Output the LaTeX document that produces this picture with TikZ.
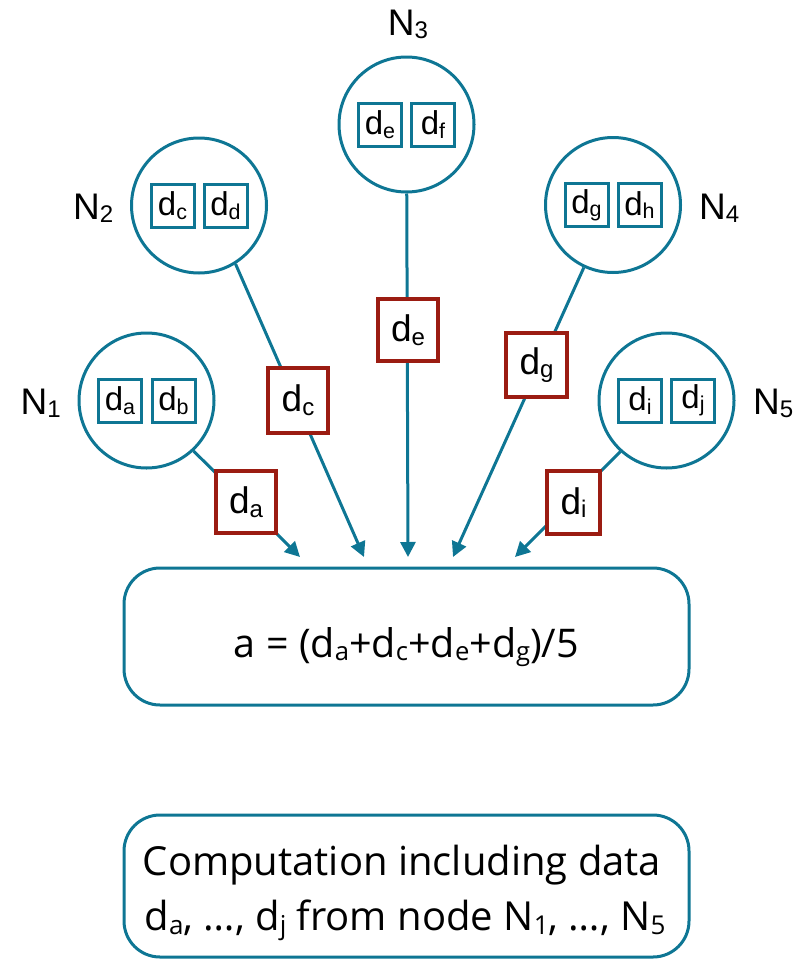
\documentclass[tikz,border=0pt]{standalone}
\usepackage{fontspec}
\usepackage{graphicx}
\setmainfont{Liberation Sans}
\newfontfamily\osans{Open Sans}
\usetikzlibrary{arrows.meta}
\definecolor{tealline}{RGB}{14,118,148}
\definecolor{redline}{RGB}{155,28,18}
\newcommand\lo[1]{\raisebox{-0.1em}{\scalebox{0.65}{#1}}}
\begin{document}
\begin{tikzpicture}[x=1pt,y=-1pt,
 nodecirc/.style={circle,draw=tealline,line width=3pt,minimum size=135pt,inner sep=0pt},
 databox/.style={draw=tealline,line width=3pt,minimum size=43pt,inner sep=0pt,font=\fontsize{33}{40}\selectfont},
 sentbox/.style={draw=redline,fill=white,line width=3.3pt,minimum width=60pt,minimum height=62pt,inner sep=0pt,font=\fontsize{37}{44}\selectfont},
 nlabel/.style={font=\fontsize{37}{44}\selectfont,inner sep=0pt},
 link/.style={draw=tealline,line width=3pt,-{Triangle[length=15pt,width=15pt]}},
 resultbox/.style={draw=tealline,line width=3pt,rounded corners=36pt,inner sep=0pt,minimum width=565pt},
 restext/.style={font=\osans\fontsize{39.5}{46}\selectfont,inner sep=0pt,anchor=base},
 comptext/.style={font=\osans\fontsize{40}{48}\selectfont,inner sep=0pt,anchor=base},
]
\useasboundingbox (0,0) rectangle (800,961);

% compute nodes
\node[nodecirc] (N1) at (146.5,400.5) {};
\node[nodecirc] (N2) at (199,205.5) {};
\node[nodecirc] (N3) at (406.5,124.5) {};
\node[nodecirc] (N4) at (613,205) {};
\node[nodecirc] (N5) at (666.5,400.5) {};

% data boxes
\node[databox] (da) at (120,400.5) {d\lo{a}};
\node[databox] (db) at (173.5,400.5) {d\lo{b}};
\node[databox] (dc) at (172.5,205.5) {d\lo{c}};
\node[databox] (dd) at (225.5,205.5) {d\lo{d}};
\node[databox] (de) at (380,124.5) {d\lo{e}};
\node[databox] (df) at (433,124.5) {d\lo{f}};
\node[databox] (dg) at (586.5,205) {d\lo{g}};
\node[databox] (dh) at (639.5,205) {d\lo{h}};
\node[databox] (di) at (640,400.5) {d\lo{i}};
\node[databox] (dj) at (693,400.5) {d\lo{j}};

% labels
\node[nlabel,anchor=base east] (L1) at (61,414) {N\lo{1}};
\node[nlabel,anchor=base east] (L2) at (113.5,219) {N\lo{2}};
\node[nlabel,anchor=base] (L3) at (408,35) {N\lo{3}};
\node[nlabel,anchor=base west] (L4) at (699,219) {N\lo{4}};
\node[nlabel,anchor=base west] (L5) at (753,414) {N\lo{5}};

% result box
\node[resultbox,minimum height=137pt] (R) at (406.5,636.5) {};
\node[restext] (formula) at (406.5,657) {a = (d\lo{a}+d\lo{c}+d\lo{e}+d\lo{g})/5};

% arrow targets
\coordinate (t1) at (300,557);
\coordinate (t2) at (364,557);
\coordinate (t3) at (408,557);
\coordinate (t4) at (453,557);
\coordinate (t5) at (515,557);

\draw[link] (N1.-47) -- (t1);
\draw[link] (N2.-58) -- (t2);
\draw[link] (N3) -- (t3);
\draw[link] (N4.-115) -- (t4);
\draw[link] (N5.-132) -- (t5);

% transmitted data
\node[sentbox] (sa) at (246,502) {d\lo{a}};
\node[sentbox,minimum height=65pt] (sc) at (298,400.5) {d\lo{c}};
\node[sentbox] (se) at (408,330) {d\lo{e}};
\node[sentbox,minimum width=61pt,minimum height=64pt] (sg) at (536.5,365) {d\lo{g}};
\node[sentbox,minimum width=53pt,minimum height=63pt] (si) at (573.5,502.5) {d\lo{i}};

% bottom box
\node[resultbox,minimum height=142pt] (C) at (406.5,886) {};
\node[comptext] (comp1) at (402,875) {Computation including data};
\node[comptext] (comp2) at (405,930) {d\lo{a}, \dots, d\lo{j} from node N\lo{1}, \dots, N\lo{5}};
\end{tikzpicture}
\end{document}
